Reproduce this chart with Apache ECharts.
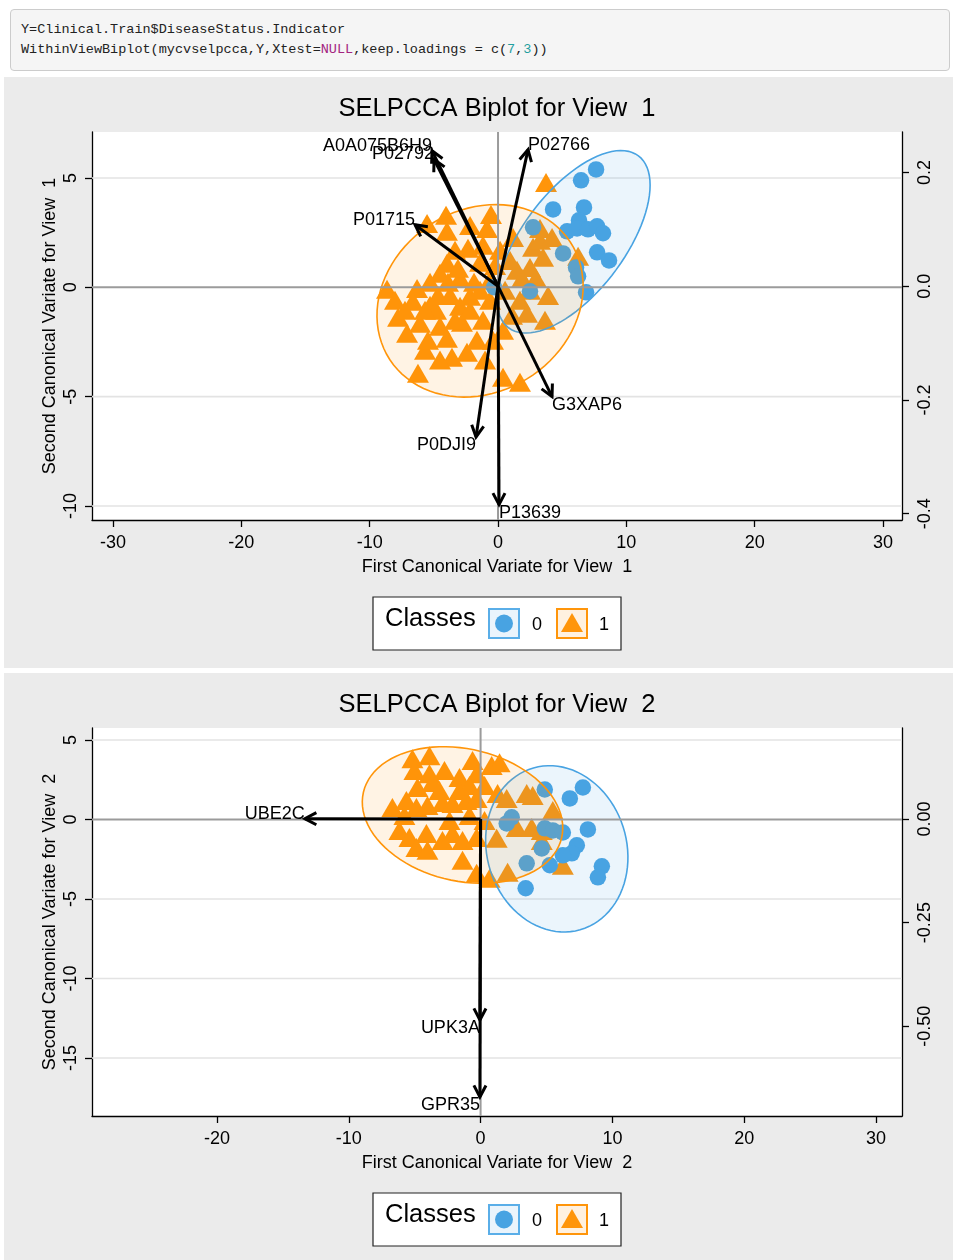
<!DOCTYPE html>
<html>
<head>
<meta charset="utf-8">
<script src="https://cdn.jsdelivr.net/npm/echarts@6/dist/echarts.min.js"></script>
<style>
body{margin:0;background:#fff;width:953px;height:1260px;position:relative;overflow:hidden}
.code{position:absolute;left:10px;top:9px;width:918px;height:40px;padding:10px;background:#f5f5f5;border:1px solid #ccc;border-radius:4px;font:13.5px/20px "Liberation Mono","DejaVu Sans Mono",monospace;color:#222;white-space:pre;z-index:2}
.code .kw{color:#a3247f}
.code .num{color:#1f9f9f}
.panel{position:absolute;left:4px;width:949px;background:#ebebeb}
#main{position:absolute;left:0;top:0;width:953px;height:1260px;z-index:1}
</style>
</head>
<body>
<div class="code">Y=Clinical.Train$DiseaseStatus.Indicator
WithinViewBiplot(mycvselpcca,Y,Xtest=<span class="kw">NULL</span>,keep.loadings = c(<span class="num">7</span>,<span class="num">3</span>))</div>
<div class="panel" style="top:77px;height:591px"></div>
<div class="panel" style="top:673px;height:587px"></div>
<div id="main"></div>
<script>
// view 1 : canonical variates (class 0 = circles, class 1 = triangles)
var v1Class0 = [[7.64,5.39],[6.47,4.89],[4.29,3.56],[6.70,3.65],[2.73,2.74],[5.38,2.56],[6.31,3.06],[6.16,2.69],[7.01,2.65],[7.72,2.79],
  [8.18,2.47],[5.07,1.55],[7.72,1.60],[8.65,1.23],[6.08,0.91],[6.24,0.50],[6.86,-0.23],[2.49,-0.18],[-0.31,0.0]];
var v1Class1 = [[3.74,4.79],[-5.53,2.92],[-4.05,3.29],[-3.98,2.56],[-2.18,2.83],[-0.55,3.33],[-0.86,2.69],[-8.65,-0.09],[-3.98,1.10],[-4.52,0.64],
  [-5.30,0.23],[-2.96,0.41],[-1.87,0.23],[-6.31,-0.05],[-6.63,-0.64],[-7.79,-1.37],[-5.30,-0.82],[-7.09,-2.10],[-6.08,-1.64],[-4.52,-1.78],
  [-3.98,-2.33],[-5.69,-2.88],[-3.59,-3.20],[-2.42,-2.97],[-6.24,-3.93],[0.39,-4.11],[1.71,-4.34],[-1.64,-2.42],[-1.17,-1.51],[-2.96,-0.87],
  [-2.18,-0.41],[-3.74,-0.37],[-0.62,-0.59],[-1.40,1.14],[-2.34,1.78],[-3.35,1.69],[0.16,1.69],[1.17,2.28],[1.48,0.78],[1.87,0.41],
  [2.73,1.83],[3.27,2.15],[3.51,1.37],[2.49,0.91],[2.96,0.41],[4.21,2.28],[3.90,-0.37],[1.71,-0.59],[2.26,-1.19],[3.66,-1.51],
  [6.24,1.42],[3.27,2.69],[0.55,-0.14],[1.09,-1.28],[-0.39,-2.42],[-4.83,-1.05],[-7.25,-1.05],[-8.03,-0.59],[-2.81,-1.60],[-1.40,-0.14],
  [-0.62,0.32],[-1.17,1.92],[-3.12,0.87],[-4.68,-0.37],[-5.46,-2.42],[-1.01,-3.33],[-4.52,-3.33],[-5.69,-1.05],[0.39,-1.96],[2.49,-0.14],
  [-0.23,1.00],[0.94,1.23],[-2.18,-1.05],[-3.35,-1.51],[-3.90,0.23]];
// ellipse: centre x, centre y, half axis u (x,y), half axis v (x,y); class 0 then class 1
var v1Ellipses = [[5.88,2.08,5.06,3.93,-3.17,1.40],[-1.40,-0.62,7.04,2.68,-3.87,3.49]];
var v1LoadNames = ['A0A075B6H9','P02792','P02766','P01715','G3XAP6','P0DJI9','P13639'];
var v1Loadings = [[-0.198,0.238],[-0.192,0.223],[0.090,0.240],[-0.249,0.108],[0.162,-0.194],[-0.066,-0.265],[0.003,-0.384]];

// view 2
var v2Class0 = [[4.87,1.88],[6.77,1.32],[7.76,2.01],[2.36,0.13],[1.98,-0.25],[4.87,-0.56],[5.48,-0.69],[6.24,-0.82],[8.14,-0.63],
  [4.64,-1.82],[7.30,-1.63],[6.92,-2.13],[6.24,-2.26],[5.25,-2.88],[3.50,-2.76],[9.20,-2.95],[8.90,-3.64],[3.42,-4.33]];
var v2Class1 = [[-5.17,3.82],[-3.88,4.01],[-5.02,3.07],[-3.88,2.88],[-4.79,2.01],[-3.65,2.32],[-6.69,0.75],[-5.63,1.19],[-4.87,0.75],[-4.03,0.88],
  [-2.89,1.07],[-1.60,2.63],[-1.60,1.82],[-0.61,3.70],[-0.30,2.88],[-2.13,1.00],[-1.06,1.19],[-0.30,1.32],[0.84,3.39],[-6.16,-0.69],
  [-5.40,-1.13],[-4.11,-0.88],[-4.87,-1.76],[-4.03,-1.94],[-2.89,-1.32],[-2.13,-0.88],[-1.37,-1.32],[-0.30,-1.13],[-1.37,-2.57],[-0.30,-3.39],
  [0.68,-3.70],[1.44,3.57],[1.29,1.63],[1.98,1.32],[3.50,1.63],[3.95,1.50],[5.48,0.56],[2.74,-0.50],[3.88,-0.50],[4.64,-0.69],
  [1.22,-1.19],[4.64,-1.32],[6.24,-2.88],[2.05,-3.32],[-0.84,0.25],[-2.36,-0.06],[-3.12,1.82],[0.30,2.13],[-0.84,2.13],[-2.74,3.07],
  [-5.78,0.25],[0.30,-0.06]];
var v2Ellipses = [[5.78,-1.85,1.77,-5.09,-5.10,-1.20],[-1.37,0.28,7.52,-1.43,-1.13,-4.05]];
var v2LoadNames = ['UBE2C','UPK3A','GPR35'];
var v2Loadings = [[-0.512,0.001],[-0.002,-0.485],[-0.002,-0.671]];

// axes: ranges and tick labels
var v1XRange = [-31.64, 31.48], v1YRange = [-10.64, 7.10], v1RRange = [-0.411, 0.271], v1Ratio = 25.98;
var v2XRange = [-29.48, 31.97], v2YRange = [-18.65, 5.75], v2RRange = [-0.717, 0.22], v2Ratio = 26.04;
var v1XTicks = [-30,-20,-10,0,10,20,30], v1YTicks = [-10,-5,0,5], v1RTicks = [-0.4,-0.2,0,0.2];
var v2XTicks = [-20,-10,0,10,20,30], v2YTicks = [-15,-10,-5,0,5], v2RTicks = [-0.5,-0.25,0];

var FONT = '"Liberation Sans", Arial, Helvetica, sans-serif';
var BLUE = '#48a3e2', ORANGE = '#ff950a';

var chart = echarts.init(document.getElementById('main'), null, {width: 953, height: 1260});

function buildView(g, v) {
  var xa = [{
    gridIndex: g, type: 'value', position: 'bottom', min: v.xr[0], max: v.xr[1],
    name: 'First Canonical Variate for View  ' + (g + 1), nameLocation: 'middle', nameGap: 38, nameMoveOverlap: false,
    nameTextStyle: {color: '#000', fontSize: 18, fontFamily: FONT},
    axisLine: {show: true, onZero: false, lineStyle: {color: '#000', width: 1.3}},
    axisTick: {show: true, length: 7, lineStyle: {color: '#000', width: 1.3}, customValues: v.xt},
    axisLabel: {color: '#000', fontSize: 18, fontFamily: FONT, margin: 14, customValues: v.xt},
    splitLine: {show: false}
  }, {
    // loadings scale (hidden), same aspect as the right axis
    gridIndex: g, type: 'value', position: 'top', show: false,
    min: v.xr[0] / v.ratio, max: v.xr[1] / v.ratio
  }];
  var ya = [{
    gridIndex: g, type: 'value', position: 'left', min: v.yr[0], max: v.yr[1],
    name: 'Second Canonical Variate for View  ' + (g + 1), nameLocation: 'middle', nameGap: 33, nameRotate: 90,
    nameMoveOverlap: false,
    nameTextStyle: {color: '#000', fontSize: 18, fontFamily: FONT},
    axisLine: {show: true, onZero: false, lineStyle: {color: '#000', width: 1.3}},
    axisTick: {show: true, length: 7, lineStyle: {color: '#000', width: 1.3}, customValues: v.yt},
    axisLabel: {color: '#000', fontSize: 18, fontFamily: FONT, margin: 12, rotate: 90, customValues: v.yt},
    splitLine: {show: false}
  }, {
    gridIndex: g, type: 'value', position: 'right', min: v.rr[0], max: v.rr[1],
    axisLine: {show: true, onZero: false, lineStyle: {color: '#000', width: 1.3}},
    axisTick: {show: true, length: 7, lineStyle: {color: '#000', width: 1.3}, customValues: v.rt},
    axisLabel: {color: '#000', fontSize: 18, fontFamily: FONT, margin: 14, rotate: 90, customValues: v.rt,
      formatter: function (val) { return val.toFixed(v.dec); }},
    splitLine: {show: false}
  }];
  var xi = 2 * g, yi = 2 * g;
  var series = [
    { // light grid lines
      type: 'custom', xAxisIndex: xi, yAxisIndex: yi, z: 1, silent: true,
      data: v.yt.filter(function (t) { return t !== 0; }).map(function (t) { return [0, t]; }),
      renderItem: function (params, api) {
        var cs = params.coordSys, y = api.coord([0, api.value(1)])[1];
        return {type: 'line', shape: {x1: cs.x, y1: y, x2: cs.x + cs.width, y2: y},
          style: {stroke: '#e3e3e3', lineWidth: 1.6}};
      }
    },
    {type: 'scatter', xAxisIndex: xi, yAxisIndex: yi, z: 2, silent: true, data: v.c1,
      symbol: 'triangle', symbolSize: [22, 19], itemStyle: {color: ORANGE, opacity: 1}},
    {type: 'scatter', xAxisIndex: xi, yAxisIndex: yi, z: 3, silent: true, data: v.c0,
      symbol: 'circle', symbolSize: 16.5, itemStyle: {color: BLUE, opacity: 1}},
    { // class ellipses
      type: 'custom', xAxisIndex: xi, yAxisIndex: yi, z: 4, silent: true, data: v.ell,
      renderItem: function (params, api) {
        var cx = api.value(0), cy = api.value(1), ux = api.value(2), uy = api.value(3), vx = api.value(4), vy = api.value(5);
        var pts = [];
        for (var k = 0; k < 90; k++) {
          var t = 2 * Math.PI * k / 90;
          pts.push(api.coord([cx + ux * Math.cos(t) + vx * Math.sin(t), cy + uy * Math.cos(t) + vy * Math.sin(t)]));
        }
        var isBlue = params.dataIndex === 0;
        return {type: 'polygon', shape: {points: pts},
          style: {fill: isBlue ? 'rgba(72,163,226,0.11)' : 'rgba(255,149,10,0.11)',
            stroke: isBlue ? BLUE : ORANGE, lineWidth: 1.6}};
      }
    },
    { // zero lines
      type: 'custom', xAxisIndex: xi, yAxisIndex: yi, z: 5, silent: true, data: [[0, 0]],
      renderItem: function (params, api) {
        var cs = params.coordSys, o = api.coord([0, 0]);
        return {type: 'group', children: [
          {type: 'line', shape: {x1: cs.x, y1: o[1], x2: cs.x + cs.width, y2: o[1]}, style: {stroke: '#9b9b9b', lineWidth: 2}},
          {type: 'line', shape: {x1: o[0], y1: cs.y, x2: o[0], y2: cs.y + cs.height}, style: {stroke: '#9b9b9b', lineWidth: 2}}
        ]};
      }
    },
    { // loading arrows
      type: 'custom', xAxisIndex: xi + 1, yAxisIndex: yi + 1, z: 6, silent: true, data: v.load,
      renderItem: function (params, api) {
        var lx = api.value(0), ly = api.value(1);
        var o = api.coord([0, 0]), p = api.coord([lx, ly]);
        var ang = Math.atan2(p[1] - o[1], p[0] - o[0]), h = 13, w = Math.PI / 6.5;
        var a1 = [p[0] - h * Math.cos(ang - w), p[1] - h * Math.sin(ang - w)];
        var a2 = [p[0] - h * Math.cos(ang + w), p[1] - h * Math.sin(ang + w)];
        var al = lx < 0 ? 'right' : 'left';
        return {type: 'group', children: [
          {type: 'line', shape: {x1: o[0], y1: o[1], x2: p[0], y2: p[1]}, style: {stroke: '#000', lineWidth: 3}},
          {type: 'polyline', shape: {points: [a1, p, a2]}, style: {stroke: '#000', lineWidth: 3, fill: 'none'}},
          {type: 'text', x: p[0], y: p[1] + (ly < 0 ? 8 : -5),
            style: {text: v.names[params.dataIndex], fill: '#000', font: '18px ' + FONT,
              textAlign: al, align: al, textVerticalAlign: 'middle', verticalAlign: 'middle'}}
        ]};
      }
    }
  ];
  return {xa: xa, ya: ya, series: series};
}

function legendGroup(y) {
  return {
    type: 'group', x: 373, y: y, children: [
      {type: 'rect', shape: {x: 0, y: 0, width: 248, height: 53}, style: {fill: '#fff', stroke: '#222', lineWidth: 1.2}},
      {type: 'text', x: 12, y: 22, style: {text: 'Classes', font: '25.5px ' + FONT, fill: '#000', textVerticalAlign: 'middle', verticalAlign: 'middle'}},
      {type: 'rect', shape: {x: 116, y: 12, width: 30, height: 29}, style: {fill: '#eaf4fc', stroke: '#5aaee8', lineWidth: 2}},
      {type: 'circle', shape: {cx: 131, cy: 26.5, r: 9}, style: {fill: BLUE}},
      {type: 'text', x: 164, y: 28, style: {text: '0', font: '18px ' + FONT, fill: '#000', textAlign: 'center', align: 'center', textVerticalAlign: 'middle', verticalAlign: 'middle'}},
      {type: 'rect', shape: {x: 184, y: 12, width: 30, height: 29}, style: {fill: '#fff1e0', stroke: ORANGE, lineWidth: 2}},
      {type: 'polygon', shape: {points: [[199, 16], [188, 35], [210, 35]]}, style: {fill: ORANGE}},
      {type: 'text', x: 231, y: 28, style: {text: '1', font: '18px ' + FONT, fill: '#000', textAlign: 'center', align: 'center', textVerticalAlign: 'middle', verticalAlign: 'middle'}}
    ]
  };
}

function titleText(y, txt) {
  return {type: 'text', x: 497, y: y, style: {text: txt, font: '25.5px ' + FONT, fill: '#000',
    textAlign: 'center', align: 'center', textVerticalAlign: 'middle', verticalAlign: 'middle'}};
}

var view1 = buildView(0, {xr: v1XRange, yr: v1YRange, rr: v1RRange, ratio: v1Ratio, xt: v1XTicks, yt: v1YTicks, rt: v1RTicks, dec: 1,
  c0: v1Class0, c1: v1Class1, ell: v1Ellipses, load: v1Loadings, names: v1LoadNames});
var view2 = buildView(1, {xr: v2XRange, yr: v2YRange, rr: v2RRange, ratio: v2Ratio, xt: v2XTicks, yt: v2YTicks, rt: v2RTicks, dec: 2,
  c0: v2Class0, c1: v2Class1, ell: v2Ellipses, load: v2Loadings, names: v2LoadNames});

var option = {
  animation: false,
  backgroundColor: 'transparent',
  grid: [
    {left: 92, top: 132, width: 810, height: 388, show: true, backgroundColor: '#fff', borderWidth: 0},
    {left: 92, top: 728, width: 810, height: 388, show: true, backgroundColor: '#fff', borderWidth: 0}
  ],
  xAxis: view1.xa.concat(view2.xa),
  yAxis: view1.ya.concat(view2.ya),
  series: view1.series.concat(view2.series),
  graphic: {elements: [
    titleText(109, 'SELPCCA Biplot for View  1'),
    titleText(705, 'SELPCCA Biplot for View  2'),
    legendGroup(597),
    legendGroup(1193)
  ]}
};
chart.setOption(option);
</script>
</body>
</html>
